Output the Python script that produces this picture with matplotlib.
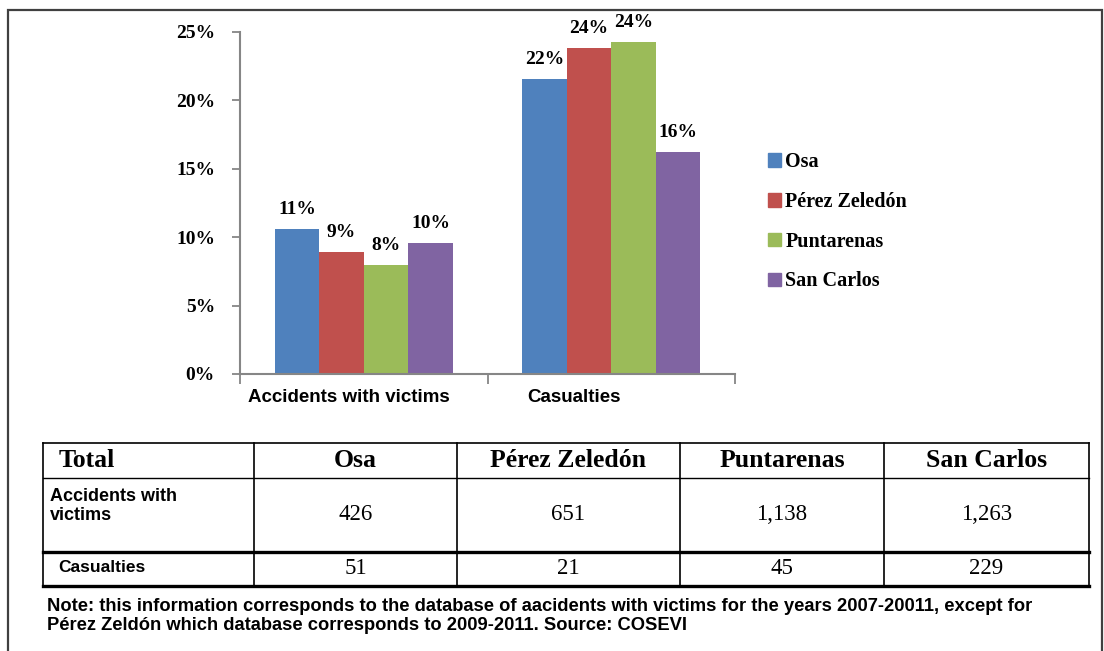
import matplotlib.pyplot as plt
from matplotlib.lines import Line2D
from matplotlib.patches import Rectangle, Patch
import numpy as np

regions = ['Osa', 'Pérez Zeledón', 'Puntarenas', 'San Carlos']
categories = ['Accidents with victims', 'Casualties']
acc_pct = [10.6, 8.9, 8.0, 9.6]
cas_pct = [21.6, 23.8, 24.3, 16.2]
acc_totals = ['426', '651', '1,138', '1,263']
cas_totals = ['51', '21', '45', '229']
note = ('Note: this information corresponds to the database of aacidents with victims for the years 2007-20011, except for\n'
        'Pérez Zeldón which database corresponds to 2009-2011. Source: COSEVI')

colors = ['#4F81BD', '#C0504D', '#9BBB59', '#8064A2']
W, H = 1104, 651
serif = 'Liberation Serif'
sans = 'Liberation Sans'

fig = plt.figure(figsize=(W / 100, H / 100), dpi=100)

def fx(px):
    return px / W

def fy(py):
    return 1 - py / H

# outer frame
fig.add_artist(Rectangle((fx(8), fy(660)), fx(1102) - fx(8), fy(10) - fy(660),
                         transform=fig.transFigure, fill=False, ec='#404040', lw=1.6))

ax = fig.add_axes([fx(240), fy(374), fx(735) - fx(240), fy(32) - fy(374)])

x = np.arange(len(categories))
bw = 0.18
for i, reg in enumerate(regions):
    vals = [acc_pct[i], cas_pct[i]]
    pos = x + (i - 1.5) * bw
    ax.bar(pos, vals, bw, color=colors[i], label=reg)
    for p, v in zip(pos, vals):
        ax.text(p, v + 0.8, f'{round(v)}%', ha='center', va='bottom',
                fontfamily=serif, fontweight='bold', fontsize=14)

ax.set_xlim(-0.5, 1.5)
ax.set_ylim(0, 25)
ax.set_yticks(range(0, 26, 5))
ax.set_yticklabels([f'{t}%' for t in range(0, 26, 5)], fontfamily=serif,
                   fontweight='bold', fontsize=14)
ax.set_xticks([-0.5, 0.5, 1.5])
ax.set_xticklabels([])
# category labels sit a little left of the group centres, as in the original
ax.set_xticks(x + np.array([-0.06, -0.15]), minor=True)
ax.set_xticklabels(categories, minor=True, fontfamily=sans, fontweight='bold', fontsize=13.5)
ax.tick_params(axis='x', which='minor', length=0, pad=11)
ax.tick_params(axis='x', which='major', length=7, color='#868686', width=1.3)
ax.tick_params(axis='y', length=6, color='#868686', width=1.3, pad=12)
for s in ['top', 'right']:
    ax.spines[s].set_visible(False)
for s in ['left', 'bottom']:
    ax.spines[s].set_color('#868686')
    ax.spines[s].set_linewidth(1.5)

handles = [Patch(color=c) for c in colors]
fig.legend(handles, regions, loc='upper left', bbox_to_anchor=(fx(750), fy(134)),
           frameon=False, handlelength=0.65, handleheight=0.65, handletextpad=0.2,
           labelspacing=0.98, prop={'family': serif, 'weight': 'bold', 'size': 14.5})

# table
cols = [43, 254, 457, 680, 884, 1089]
rows = [443, 478, 552, 586]

def hline(py, lw):
    fig.add_artist(Line2D([fx(cols[0]), fx(cols[-1])], [fy(py), fy(py)],
                          transform=fig.transFigure, color='black', lw=lw))

def vline(px, lw=1.2):
    fig.add_artist(Line2D([fx(px), fx(px)], [fy(rows[0]), fy(rows[-1])],
                          transform=fig.transFigure, color='black', lw=lw))

hline(rows[0], 1.2)
hline(rows[1], 1.0)
hline(rows[2], 2.4)
hline(rows[3], 2.4)
for c in cols:
    vline(c)

fig.text(fx(59), fy((rows[0] + rows[1]) / 2), 'Total', ha='left', va='center',
         fontfamily=serif, fontweight='bold', fontsize=18.5)
for j, reg in enumerate(regions):
    cx = (cols[j + 1] + cols[j + 2]) / 2
    fig.text(fx(cx), fy((rows[0] + rows[1]) / 2), reg, ha='center', va='center',
             fontfamily=serif, fontweight='bold', fontsize=18.5)
    fig.text(fx(cx), fy((rows[1] + rows[2]) / 2), acc_totals[j], ha='center', va='center',
             fontfamily=serif, fontsize=16.5)
    fig.text(fx(cx), fy((rows[2] + rows[3]) / 2), cas_totals[j], ha='center', va='center',
             fontfamily=serif, fontsize=16.5)

fig.text(fx(50), fy(506), 'Accidents with\nvictims', ha='left', va='center',
         fontfamily=sans, fontweight='bold', fontsize=13, linespacing=1.15)
fig.text(fx(58), fy(567), 'Casualties', ha='left', va='center',
         fontfamily=sans, fontweight='bold', fontsize=12.5)

fig.text(fx(47), fy(616), note, ha='left', va='center', fontfamily=sans,
         fontweight='bold', fontsize=13.2, linespacing=1.1)

fig.savefig('out.png', dpi=100)
